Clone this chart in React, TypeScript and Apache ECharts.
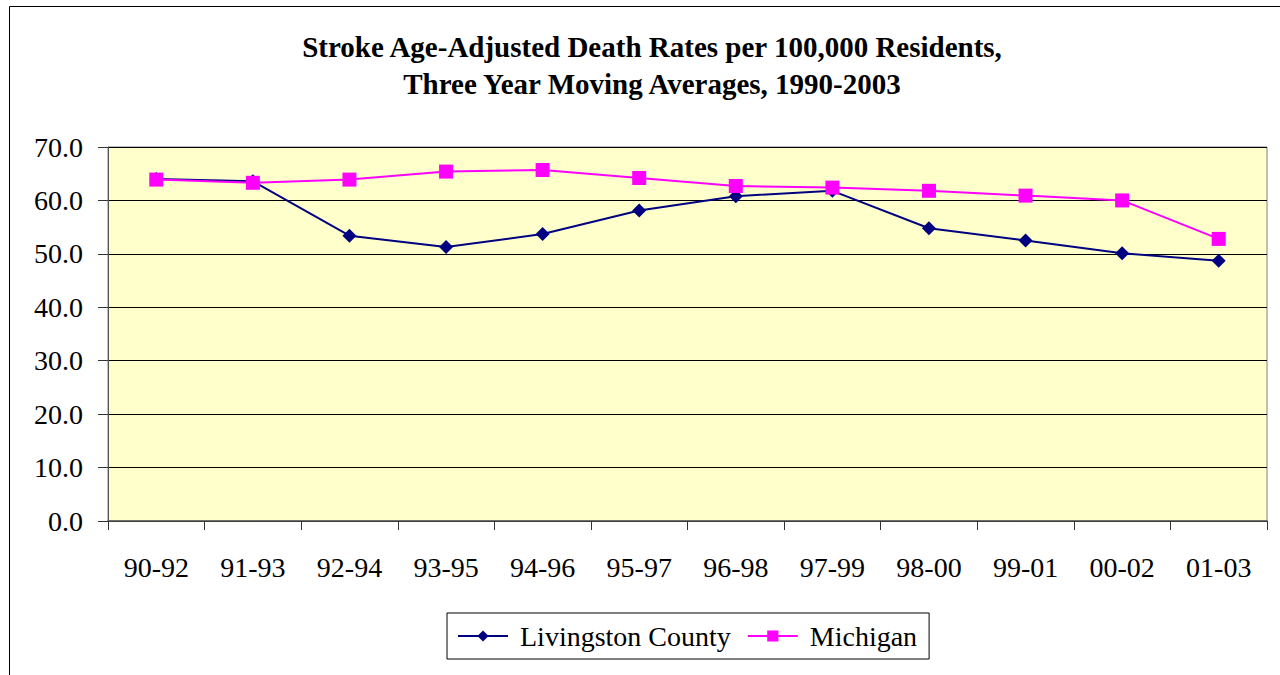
import React, { useEffect, useRef } from "react";
import * as echarts from "echarts";

const categories = ["90-92", "91-93", "92-94", "93-95", "94-96", "95-97", "96-98", "97-99", "98-00", "99-01", "00-02", "01-03"];
const livingston = [64.0, 63.6, 53.4, 51.3, 53.7, 58.1, 60.8, 61.8, 54.8, 52.5, 50.1, 48.7];
const michigan = [63.9, 63.3, 63.9, 65.4, 65.7, 64.2, 62.7, 62.4, 61.8, 60.9, 60.0, 52.8];
const yTicks = { min: 0, max: 70, interval: 10 };
const titleText = "Stroke Age-Adjusted Death Rates per 100,000 Residents,\nThree Year Moving Averages, 1990-2003";
const seriesNames = ["Livingston County", "Michigan"];

const FONT = "'Liberation Serif', 'Times New Roman', serif";

export default function App() {
  const ref = useRef<HTMLDivElement>(null);
  useEffect(() => {
    if (!ref.current) return;
    const chart = echarts.init(ref.current, undefined, { renderer: "svg" });
    chart.setOption({
      animation: false,
      backgroundColor: "#ffffff",
      title: {
        text: titleText,
        left: 647,
        top: 23,
        textAlign: "center",
        textStyle: { fontFamily: FONT, fontWeight: "bold", fontSize: 29, lineHeight: 37, color: "#000" },
      },
      graphic: [
        {
          type: "rect",
          shape: { x: 9.5, y: 6.5, width: 1400, height: 800 },
          style: { fill: "none", stroke: "#000", lineWidth: 1 },
          silent: true,
          z: -10,
        },
      ],
      legend: {
        left: 447,
        top: 613,
        orient: "horizontal",
        itemWidth: 50,
        itemHeight: 14,
        itemGap: 16,
        padding: [9, 12, 9, 10],
        borderColor: "#000",
        borderWidth: 1,
        backgroundColor: "#fff",
        textStyle: { fontFamily: FONT, fontSize: 28, color: "#000", padding: [0, 0, 0, 7] },
        data: seriesNames,
      },
      grid: {
        left: 108,
        top: 147,
        right: 13,
        bottom: 154,
        show: true,
        backgroundColor: "#FFFFCC",
        borderColor: "#808080",
        borderWidth: 1,
        containLabel: false,
      },
      xAxis: {
        type: "category",
        data: categories,
        boundaryGap: true,
        axisLine: { lineStyle: { color: "#555", width: 1.5 } },
        axisTick: { show: true, length: 9, lineStyle: { color: "#333" } },
        axisLabel: { fontFamily: FONT, fontSize: 28, color: "#000", margin: 32 },
        splitLine: { show: false },
      },
      yAxis: {
        type: "value",
        min: yTicks.min,
        max: yTicks.max,
        interval: yTicks.interval,
        axisLine: { show: true, lineStyle: { color: "#555", width: 1 } },
        axisTick: { show: true, length: 10, lineStyle: { color: "#333" } },
        axisLabel: {
          fontFamily: FONT,
          fontSize: 28,
          color: "#000",
          margin: 25,
          padding: [10, 0, 0, 0],
          formatter: (v: number) => v.toFixed(1),
        },
        splitLine: { show: true, lineStyle: { color: "#000", width: 1 } },
      },
      series: [
        {
          name: seriesNames[0],
          type: "line",
          data: livingston,
          symbol: "diamond",
          symbolSize: 14,
          itemStyle: { color: "#000080" },
          lineStyle: { color: "#000080", width: 2 },
          z: 2,
        },
        {
          name: seriesNames[1],
          type: "line",
          data: michigan,
          symbol: "rect",
          symbolSize: 14,
          itemStyle: { color: "#FF00FF" },
          lineStyle: { color: "#FF00FF", width: 2 },
          z: 3,
        },
      ],
    });
    return () => chart.dispose();
  }, []);
  return (
    <div
      ref={ref}
      style={{ position: "fixed", left: 0, top: 0, width: 1280, height: 675 }}
    />
  );
}
